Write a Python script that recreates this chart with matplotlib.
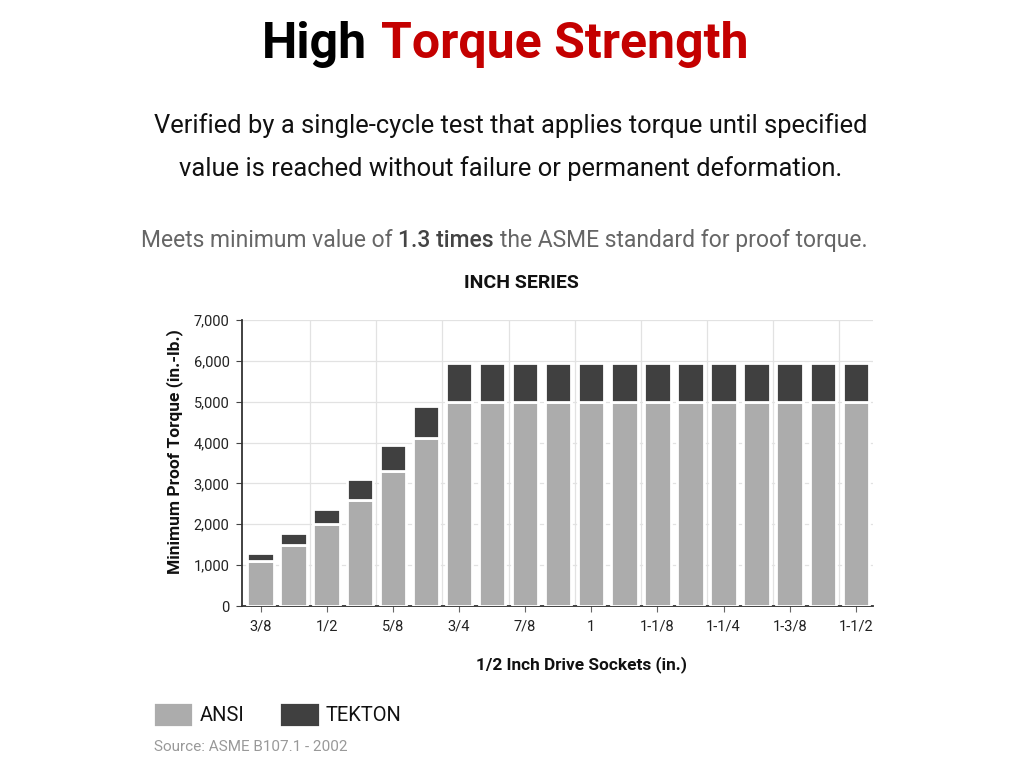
import numpy as np
import matplotlib.pyplot as plt
from matplotlib.ticker import FuncFormatter

plt.rcParams['font.family'] = ['Roboto', 'DejaVu Sans']

# socket sizes (1/2 in. drive), every other one is labelled
sizes = ['3/8', '7/16', '1/2', '9/16', '5/8', '11/16', '3/4', '13/16', '7/8', '15/16',
         '1', '1-1/16', '1-1/8', '1-3/16', '1-1/4', '1-5/16', '1-3/8', '1-7/16', '1-1/2']
ansi = [1100, 1500, 2000, 2600, 3300, 4100] + [5000] * 13
tekton = [1300, 1780, 2380, 3100, 3950, 4900] + [5950] * 13

ansi_col = '#acacac'
tekton_col = '#404040'
red = '#c40000'

W, H = 1024, 768
fig = plt.figure(figsize=(W / 100, H / 100), dpi=100)
ax = fig.add_axes([242 / W, 1 - 606 / H, (873 - 242) / W, (606 - 320) / H])

x = np.arange(len(sizes))
ansi = np.array(ansi)
tekton = np.array(tekton)
ax.bar(x, ansi, width=0.8, color=ansi_col, edgecolor='white', linewidth=2,
       zorder=3, label='ANSI')
ax.bar(x, tekton - ansi, bottom=ansi, width=0.8, color=tekton_col,
       edgecolor='white', linewidth=2, zorder=3, label='TEKTON')

ax.set_xlim(-0.56, 18.52)
ax.set_ylim(0, 7000)
ax.set_yticks(range(0, 7001, 1000))
ax.yaxis.set_major_formatter(FuncFormatter(lambda v, p: f'{int(v):,}'))
ax.set_xticks(x[::2])
ax.set_xticklabels(sizes[::2])
ax.set_xticks(np.arange(1.5, 18, 2), minor=True)

ax.grid(axis='y', color='#e2e2e2', linewidth=0.9, zorder=0)
ax.grid(axis='x', which='minor', color='#e2e2e2', linewidth=0.9, zorder=0)
ax.grid(axis='x', which='major', visible=False)
ax.tick_params(axis='x', which='minor', length=0)
ax.tick_params(axis='both', which='major', labelsize=10.5, colors='#222',
               length=4, pad=4)
ax.tick_params(axis='x', which='major', color='#666', pad=6)
ax.tick_params(axis='y', which='major', color='#444', pad=5)

for s in ['top', 'right']:
    ax.spines[s].set_visible(False)
for s in ['left', 'bottom']:
    ax.spines[s].set_color('#333')
    ax.spines[s].set_linewidth(1.3)

fig.text(175 / W, 1 - 452 / H, 'Minimum Proof Torque (in.-lb.)', rotation=90,
         ha='center', va='center', fontsize=12.5, fontweight='bold', color='#111')
fig.text(581 / W, 1 - 669 / H, '1/2 Inch Drive Sockets (in.)', ha='center',
         va='baseline', fontsize=12.4, fontweight='bold', color='#111')
fig.text(521 / W, 1 - 288 / H, 'INCH SERIES', ha='center', va='baseline',
         fontsize=14, fontweight='bold', color='#111')

fig.text(511 / W, 1 - 133 / H,
         'Verified by a single-cycle test that applies torque until specified',
         ha='center', va='baseline', fontsize=18.4, color='#111')
fig.text(511 / W, 1 - 176 / H,
         'value is reached without failure or permanent deformation.',
         ha='center', va='baseline', fontsize=18.4, color='#111')

fig.canvas.draw()
r = fig.canvas.get_renderer()

# title, two colours
t1 = fig.text(262 / W, 1 - 58 / H, 'High', ha='left', va='baseline', fontsize=36,
              fontweight='bold', color='#000')
bb = t1.get_window_extent(renderer=r)
fig.text((bb.x1 + 14) / W, 1 - 58 / H, 'Torque Strength', ha='left', va='baseline',
         fontsize=36, fontweight='bold', color=red)

# mixed weight line
parts = [('Meets minimum value of', 'normal', '#666'),
         ('1.3 times', 'medium', '#444'),
         ('the ASME standard for proof torque.', 'normal', '#666')]
xpos = 141
gap = 16.5 * 100 / 72 * 0.25
for txt, wt, col in parts:
    t = fig.text(xpos / W, 1 - 247 / H, txt, ha='left', va='baseline',
                 fontsize=16.5, fontweight=wt, color=col)
    bb = t.get_window_extent(renderer=r)
    xpos = bb.x1 + gap

leg = fig.legend(loc='upper left', bbox_to_anchor=(153 / W, 1 - 702 / H),
                 ncol=2, frameon=False, fontsize=14.5, handlelength=2.0,
                 handleheight=1.5, handletextpad=0.3, columnspacing=1.75,
                 borderpad=0, borderaxespad=0)
for t in leg.get_texts():
    t.set_color('#111')

fig.text(154 / W, 1 - 747 / H, 'Source: ASME B107.1 - 2002', ha='left',
         va='center', fontsize=11, color='#999')

fig.savefig('out.png', dpi=100)
